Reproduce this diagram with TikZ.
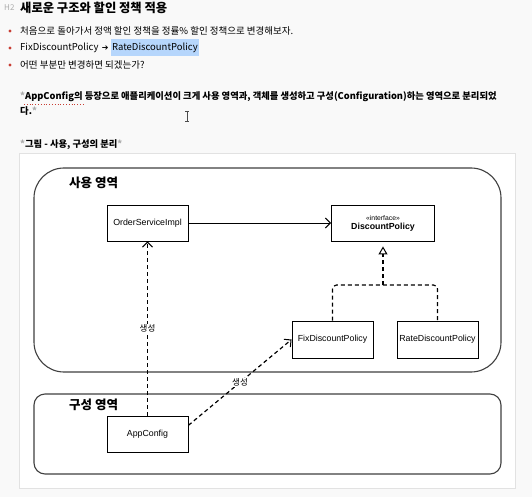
\documentclass[tikz,border=0pt]{standalone}
\usepackage{fontspec}
\setmainfont{Noto Sans CJK KR}
\newfontfamily\diagfont{Liberation Sans}
\newfontfamily\symfont{DejaVu Sans}
\usetikzlibrary{positioning,arrows.meta}
\definecolor{pagebg}{RGB}{249,249,249}
\definecolor{framegray}{RGB}{226,226,226}
\definecolor{bulletred}{RGB}{200,62,52}
\definecolor{areagray}{RGB}{64,64,64}
\definecolor{selblue}{RGB}{182,214,252}
\definecolor{stargray}{RGB}{172,172,172}

\begin{document}
\begin{tikzpicture}[x=1pt,y=-1pt,
    pagetext/.style={anchor=west,inner sep=0pt,font=\fontsize{9.5}{11}\selectfont},
    boldtext/.style={pagetext,font=\bfseries\fontsize{9.3}{11}\selectfont},
    box/.style={rectangle,draw,line width=0.9pt,minimum width=81pt,minimum height=36pt,inner sep=0pt,
        font=\diagfont\fontsize{8.8}{10}\selectfont,align=center},
    area/.style={rectangle,draw=areagray,line width=1.1pt,minimum width=467pt,inner sep=0pt},
    areatitle/.style={anchor=west,inner sep=0pt,font=\bfseries\fontsize{12.5}{14}\selectfont},
    dep/.style={dash pattern=on 4pt off 3pt,line width=1.2pt},
    lbl/.style={fill=white,inner sep=1pt,font=\fontsize{8.5}{10}\selectfont}]

\fill[pagebg] (0,0) rectangle (532,497);

% Heading
\node[pagetext,font=\fontsize{8}{9}\selectfont,text=stargray] (htag) at (4,8) {H2};
\node[pagetext,font=\bfseries\fontsize{12.3}{14}\selectfont] (title) at (20,8) {새로운 구조와 할인 정책 적용};

% Bullets
\foreach \y in {31,48,65} {
    \fill[bulletred] (10,\y) circle (1.6);
}
\node[pagetext] (b1) at (20,31) {처음으로 돌아가서 정액 할인 정책을 정률\% 할인 정책으로 변경해보자.};
\node[pagetext] (fix) at (20,48) {FixDiscountPolicy};
\node[pagetext,font=\symfont\fontsize{8}{10}\selectfont,right=3pt of fix] (arr) {➔};
\node[pagetext,fill=selblue,inner xsep=1pt,minimum height=17pt,right=2pt of arr] (rate) {RateDiscountPolicy};
\node[pagetext] (b3) at (20,65) {어떤 부분만 변경하면 되겠는가?};

% Paragraph
\node[boldtext] (para1) at (20,97) {{\color{stargray}*}AppConfig의 등장으로 애플리케이션이 크게 사용 영역과, 객체를 생성하고 구성(Configuration)하는 영역으로 분리되었};
\node[boldtext] (para2) at (20,111) {다.{\color{stargray}*}};
\draw[bulletred,dotted,line width=0.8pt] (24,104) -- (85,104);
% cursor
\draw[black!70,line width=0.6pt] (185,111) -- (189,111) (187,111) -- (187,121) (185,121) -- (189,121);

\node[boldtext] (caption) at (20,145) {{\color{stargray}*}그림 - 사용, 구성의 분리{\color{stargray}*}};

% Figure frame
\draw[framegray,fill=white] (19,153) rectangle (515,488);

% Areas
\node[area,rounded corners=30pt,minimum height=204pt] (usearea) at (267.5,270) {};
\node[area,rounded corners=11pt,minimum height=80pt] (cfgarea) at (267.5,434) {};
\node[areatitle] at (69,183) {사용 영역};
\node[areatitle] at (69,405) {구성 영역};

% Classes
\node[box] (osi) at (147.5,223) {OrderServiceImpl};
\node[box,minimum width=103pt] (dp) at (383,223) {{\fontsize{6.8}{8}\selectfont «interface»}\\[-1pt]\textbf{DiscountPolicy}};
\node[box,minimum height=37pt] (fdp) at (332.5,339.5) {FixDiscountPolicy};
\node[box,minimum height=37pt] (rdp) at (437.5,339.5) {RateDiscountPolicy};
\node[box] (appcfg) at (147.5,434) {AppConfig};
\coordinate (jn) at (383,285);

% Connectors
\draw[line width=1pt,-{Straight Barb[length=5pt,width=10pt]}] (osi) -- (dp);
\draw[dep,rounded corners=4pt] (fdp.north) |- (jn) -| (rdp.north);
\draw[dep,shorten >=5pt,-{Triangle[open,length=8pt,width=9pt,line width=1pt]}] (jn) -- (jn |- dp.south);
\draw[dep,-{Straight Barb[length=5pt,width=10pt,line width=1pt]}] (appcfg.north) -- (osi.south) node[lbl,midway] {생성};
\draw[dep,-{Straight Barb[length=5pt,width=10pt,line width=1pt]}] (appcfg.12) -- (fdp.west) node[lbl,midway] {생성};

\end{tikzpicture}
\end{document}
